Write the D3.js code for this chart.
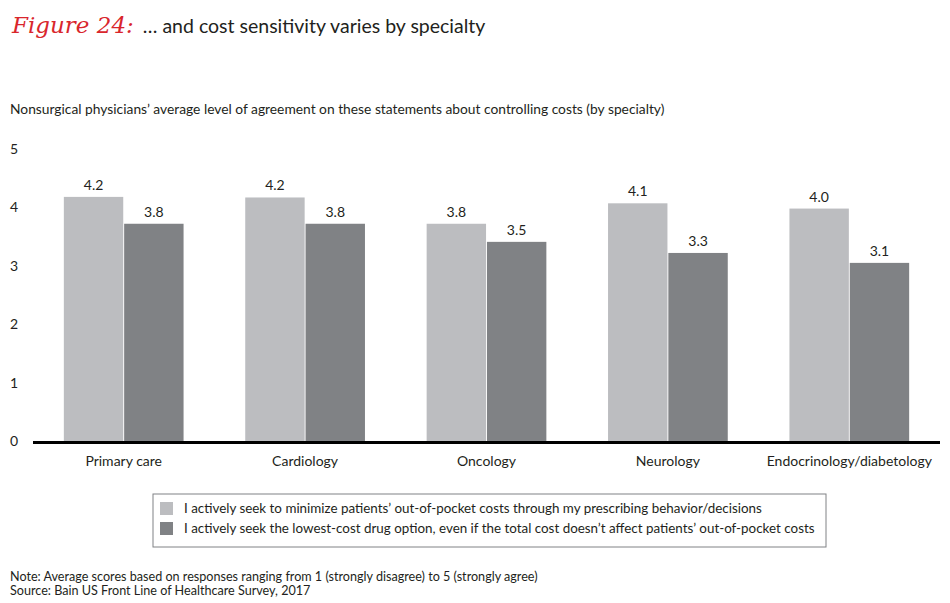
<!DOCTYPE html>
<html lang="en"><head>
<meta charset="utf-8">
<title>Figure 24</title>
<script src="https://cdn.jsdelivr.net/npm/d3@7"></script>
<style>
body { margin: 0; background: #fff; }
text { font-family: Lato, "Noto Sans", sans-serif; fill: #231f20; }
</style>
</head>
<body>
<script type="text/javascript">

var specialties = ["Primary care", "Cardiology", "Oncology", "Neurology", "Endocrinology/diabetology"];
// bar heights as drawn in the figure
var minimizeOOP = [4.18, 4.17, 3.72, 4.07, 3.98];
var lowestCost = [3.72, 3.72, 3.41, 3.22, 3.05];
// value labels as printed above the bars
var minimizeLabels = ["4.2", "4.2", "3.8", "4.1", "4.0"];
var lowestLabels = ["3.8", "3.8", "3.5", "3.3", "3.1"];
var seriesNames = [
    "I actively seek to minimize patients\u2019 out-of-pocket costs through my prescribing behavior/decisions",
    "I actively seek the lowest-cost drug option, even if the total cost doesn\u2019t affect patients\u2019 out-of-pocket costs"
];
var yTicks = [0, 1, 2, 3, 4, 5];

var width = 950, height = 603;
var colors = ["#bcbdc0", "#808285"];

var svg = d3.select("body").append("svg")
    .attr("width", width)
    .attr("height", height);

// title
var title = svg.append("text").attr("x", 12).attr("y", 33);
title.append("tspan")
    .attr("font-family", "'DejaVu Serif', serif")
    .attr("font-style", "italic")
    .attr("font-size", 23)
    .style("fill", "#d9262c")
    .text("Figure 24:");
title.append("tspan")
    .attr("font-size", 19.5)
    .attr("dx", 9)
    .text("\u2026 and cost sensitivity varies by specialty");

svg.append("text")
    .attr("x", 10).attr("y", 114)
    .attr("font-size", 13.8)
    .text("Nonsurgical physicians\u2019 average level of agreement on these statements about controlling costs (by specialty)");

var x0 = d3.scaleBand().domain(specialties).range([33, 940]).paddingInner(0.34).paddingOuter(0.17);
var x1 = d3.scaleBand().domain([0, 1]).range([0, x0.bandwidth()]).paddingInner(0.015);
var y = d3.scaleLinear().domain([0, 5]).range([441, 149]);

// y tick labels
svg.selectAll(".ytick")
    .data(yTicks)
    .enter().append("text")
    .attr("class", "ytick")
    .attr("x", 10)
    .attr("y", function(d) { return y(d) + 5; })
    .attr("font-size", 14)
    .text(function(d) { return d; });

var groups = svg.selectAll(".grp")
    .data(specialties)
    .enter().append("g")
    .attr("class", "grp")
    .attr("transform", function(d) { return "translate(" + x0(d) + ",0)"; });

groups.selectAll("rect")
    .data(function(d, i) { return [minimizeOOP[i], lowestCost[i]]; })
    .enter().append("rect")
    .attr("x", function(d, j) { return x1(j); })
    .attr("y", function(d) { return y(d); })
    .attr("width", x1.bandwidth())
    .attr("height", function(d) { return y(0) - y(d); })
    .attr("fill", function(d, j) { return colors[j]; });

groups.selectAll(".val")
    .data(function(d, i) {
        return [{v: minimizeOOP[i], t: minimizeLabels[i]}, {v: lowestCost[i], t: lowestLabels[i]}];
    })
    .enter().append("text")
    .attr("class", "val")
    .attr("x", function(d, j) { return x1(j) + x1.bandwidth() / 2; })
    .attr("y", function(d) { return y(d.v) - 7; })
    .attr("text-anchor", "middle")
    .attr("font-size", 14)
    .text(function(d) { return d.t; });

// x axis line
svg.append("line")
    .attr("x1", 33).attr("x2", 940)
    .attr("y1", y(0) + 1.5).attr("y2", y(0) + 1.5)
    .attr("stroke", "#000").attr("stroke-width", 3);

svg.selectAll(".xlab")
    .data(specialties)
    .enter().append("text")
    .attr("class", "xlab")
    .attr("x", function(d) { return x0(d) + x0.bandwidth() / 2; })
    .attr("y", 466)
    .attr("text-anchor", "middle")
    .attr("font-size", 14)
    .text(function(d) { return d; });

// legend
var legend = svg.append("g").attr("transform", "translate(153,494)");
legend.append("rect")
    .attr("width", 673).attr("height", 53)
    .attr("fill", "none").attr("stroke", "#808285").attr("stroke-width", 1);
var items = legend.selectAll(".item")
    .data(seriesNames)
    .enter().append("g")
    .attr("transform", function(d, i) { return "translate(7," + (8 + i * 20) + ")"; });
items.append("rect")
    .attr("width", 13).attr("height", 13)
    .attr("fill", function(d, i) { return colors[i]; });
items.append("text")
    .attr("x", 24).attr("y", 11)
    .attr("font-size", 13.4)
    .text(function(d) { return d; });

// notes
svg.append("text")
    .attr("x", 10).attr("y", 581)
    .attr("font-size", 12.6)
    .text("Note: Average scores based on responses ranging from 1 (strongly disagree) to 5 (strongly agree)");
svg.append("text")
    .attr("x", 10).attr("y", 595)
    .attr("font-size", 12.6)
    .text("Source: Bain US Front Line of Healthcare Survey, 2017");

</script>
</body>
</html>
